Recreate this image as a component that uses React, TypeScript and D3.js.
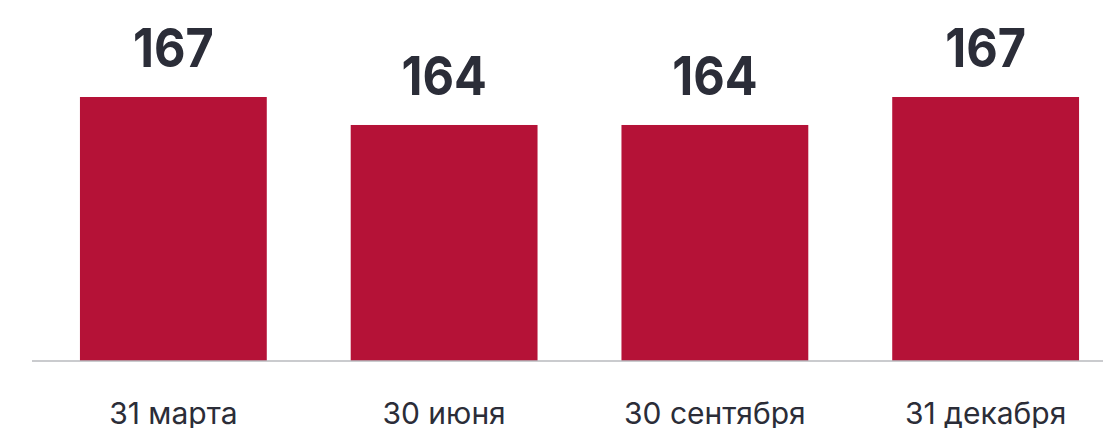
import React from "react";
import * as d3 from "d3";

const categories = ["31 марта", "30 июня", "30 сентября", "31 декабря"];
const values = [167, 164, 164, 167];

const W = 1103;
const H = 428;
const baselineY = 361;
const BAR = "#b51237";
const TEXT = "#2b2d38";

export default function App() {
  const x = d3
    .scaleBand<string>()
    .domain(categories)
    .range([33, 1126])
    .paddingInner(0.31)
    .paddingOuter(0.1734);
  const y = d3.scaleLinear().domain([138.7, 167]).range([baselineY, 97]);

  return (
    <svg
      width={W}
      height={H}
      style={{ position: "absolute", left: 0, top: 0, display: "block" }}
      fontFamily="Inter, Roboto, sans-serif"
    >
      {categories.map((c, i) => {
        const cx = (x(c) as number) + x.bandwidth() / 2;
        return (
          <g key={c}>
            <rect
              x={x(c)}
              y={y(values[i])}
              width={x.bandwidth()}
              height={baselineY - y(values[i])}
              fill={BAR}
            />
            <g transform={`translate(${cx},${y(values[i]) - 30}) scale(0.9,1)`}>
              <text
                x={0}
                y={0}
                textAnchor="middle"
                fontSize={54}
                fontWeight={700}
                fill={TEXT}
              >
                {values[i]}
              </text>
            </g>
            <text x={cx} y={424} textAnchor="middle" fontSize={30} fill={TEXT}>
              {c}
            </text>
          </g>
        );
      })}
      <line x1={32} x2={W} y1={baselineY} y2={baselineY} stroke="#b8babe" strokeWidth={1.5} />
    </svg>
  );
}
